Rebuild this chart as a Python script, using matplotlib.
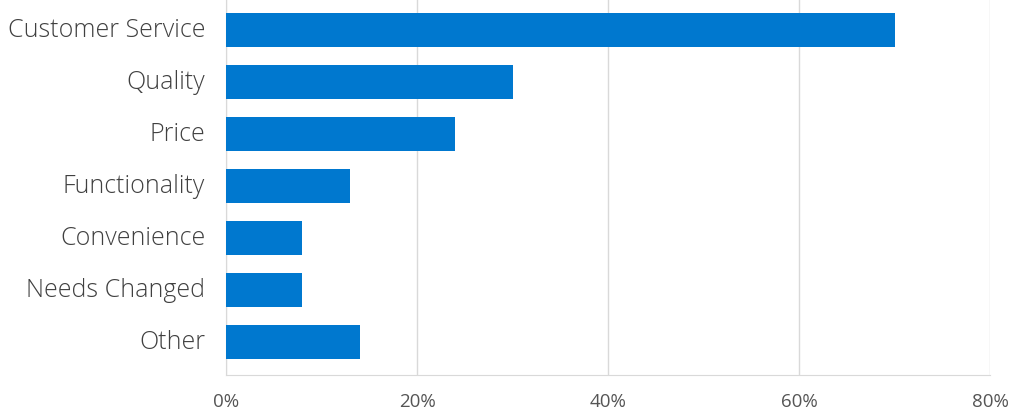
import matplotlib
matplotlib.use("Agg")
import matplotlib.pyplot as plt
import matplotlib.transforms as mtransforms
from matplotlib.ticker import FuncFormatter

categories = ["Customer Service", "Quality", "Price", "Functionality",
              "Convenience", "Needs Changed", "Other"]
values = [70, 30, 24, 13, 8, 8, 14]
x_ticks = [0, 20, 40, 60, 80]

plt.rcParams["font.family"] = ["Open Sans", "DejaVu Sans"]

fig = plt.figure(figsize=(10.24, 4.16), dpi=100)
ax = fig.add_axes([226 / 1024, 1 - 375 / 416, (990 - 226) / 1024, 375 / 416])

ypos = list(range(len(categories)))
ax.barh(ypos, values, height=0.65, color="#0078CF", zorder=3)

ax.set_xlim(0, 80)
ax.set_ylim(6.63, -0.58)
ax.set_yticks(ypos)
ax.set_yticklabels(categories, fontweight="light")
ax.set_xticks(x_ticks)
ax.xaxis.set_major_formatter(FuncFormatter(lambda v, _: f"{v:.0f}%"))

ax.grid(axis="x", color="#d9d9d9", lw=1, zorder=0)
for s in ["top", "right"]:
    ax.spines[s].set_visible(False)
for s in ["left", "bottom"]:
    ax.spines[s].set_color("#d9d9d9")
ax.tick_params(axis="both", length=0)
ax.tick_params(axis="y", labelsize=18, labelcolor="#404040", pad=15)
ax.tick_params(axis="x", labelsize=13.5, labelcolor="#555555", pad=13)

# nudge category labels up a few pixels
shift = mtransforms.ScaledTranslation(0, 3 / 100, fig.dpi_scale_trans)
for lbl in ax.get_yticklabels():
    lbl.set_transform(lbl.get_transform() + shift)

fig.savefig("out.png", dpi=100)
